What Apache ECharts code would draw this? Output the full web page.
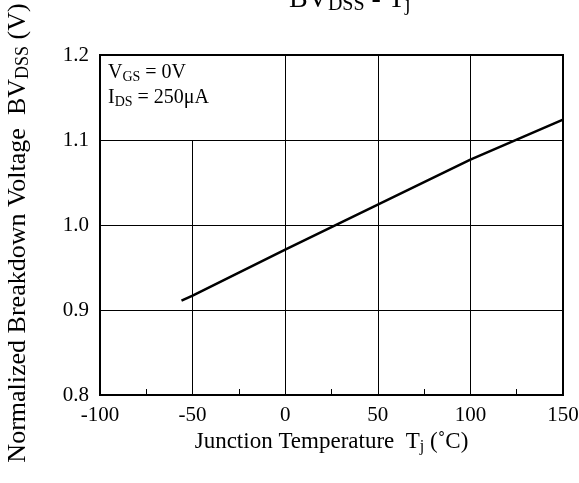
<!DOCTYPE html>
<html>
<head>
<meta charset="utf-8">
<script src="https://cdn.jsdelivr.net/npm/echarts@6/dist/echarts.min.js"></script>
<style>
  html, body { margin: 0; padding: 0; background: #fff; }
  #chart { width: 579px; height: 483px; }
</style>
</head>
<body>
<div id="chart"></div>
<script>
// curve
const temps = [-56, -50, 0, 50, 100, 150]
const bvNorm = [0.911, 0.917, 0.971, 1.024, 1.077, 1.124]
const xTicks = [-100, -50, 0, 50, 100, 150]
const yTicks = [0.8, 0.9, 1.0, 1.1, 1.2]
// vertical grid lines: [x, y from, y to]
const vGrid = [[-50, 0.8, 1.1], [0, 0.8, 1.2], [50, 0.8, 1.2], [100, 0.8, 1.2]]

const font = '"Liberation Serif", "Times New Roman", serif'
const chart = echarts.init(document.getElementById('chart'))

chart.setOption({
  animation: false,
  textStyle: { fontFamily: font, color: '#000' },
  grid: {
    left: 100, right: 16, top: 55, bottom: 88,
    outerBoundsMode: 'none',
    show: true, borderColor: '#000', borderWidth: 2
  },
  graphic: [
    {
      type: 'text', left: 289, top: -14,
      style: {
        text: '{m|BV}{s|DSS}{m| - T}{s|j}',
        rich: {
          m: { fontSize: 28, fontFamily: font, fill: '#000' },
          s: { fontSize: 20, fontFamily: font, fill: '#000', padding: [10, 0, 0, 0] }
        }
      }
    },
    {
      type: 'text', left: 108, top: 62,
      style: {
        text: '{m|V}{s|GS}{m| = 0V}\n{m|I}{s|DS}{m| = 250μA}',
        rich: {
          m: { fontSize: 20, fontFamily: font, fill: '#000', lineHeight: 25 },
          s: { fontSize: 14, fontFamily: font, fill: '#000', lineHeight: 25, padding: [8, 0, 0, 0] }
        }
      }
    }
  ],
  xAxis: {
    type: 'value',
    min: -100, max: 150, interval: 50,
    name: '{m|Junction Temperature  T}{s|j}{m| (˚C)}',
    nameLocation: 'middle',
    nameGap: 25,
    nameTextStyle: {
      rich: {
        m: { fontSize: 23, fontFamily: font, color: '#000' },
        s: { fontSize: 16, fontFamily: font, color: '#000', padding: [9, 0, 0, 0] }
      }
    },
    axisLine: { show: true, onZero: false, lineStyle: { color: '#000', width: 2 } },
    axisTick: { show: false, inside: true },
    minorTick: { show: true, splitNumber: 2, length: 6, lineStyle: { color: '#000', width: 1 } },
    splitLine: { show: false },
    axisLabel: {
      fontSize: 21, color: '#000', margin: 10,
      customValues: xTicks,
      formatter: v => String(v)
    }
  },
  yAxis: {
    type: 'value',
    min: 0.8, max: 1.2, interval: 0.1,
    name: '{m|Normalized Breakdown Voltage  BV}{s|DSS}{m| (V)}',
    nameLocation: 'middle',
    nameGap: 68,
    nameTextStyle: {
      padding: [0, 16, 0, 0],
      rich: {
        m: { fontSize: 26, fontFamily: font, color: '#000' },
        s: { fontSize: 18, fontFamily: font, color: '#000', padding: [10, 0, 0, 0] }
      }
    },
    axisLine: { show: true, onZero: false, lineStyle: { color: '#000', width: 2 } },
    axisTick: { show: false },
    splitLine: { show: true, lineStyle: { color: '#000', width: 1 } },
    axisLabel: {
      fontSize: 21, color: '#000', margin: 11,
      formatter: v => yTicks.find(t => Math.abs(t - v) < 1e-6).toFixed(1)
    }
  },
  series: [
    {
      type: 'line',
      data: temps.map((t, i) => [t, bvNorm[i]]),
      showSymbol: false,
      lineStyle: { color: '#000', width: 2.5 },
      z: 5
    },
    {
      type: 'line',
      data: [],
      markLine: {
        silent: true,
        symbol: 'none',
        label: { show: false },
        lineStyle: { color: '#000', width: 1, type: 'solid' },
        data: vGrid.map(g => [{ coord: [g[0], g[1]] }, { coord: [g[0], g[2]] }])
      }
    }
  ]
})
</script>
</body>
</html>
